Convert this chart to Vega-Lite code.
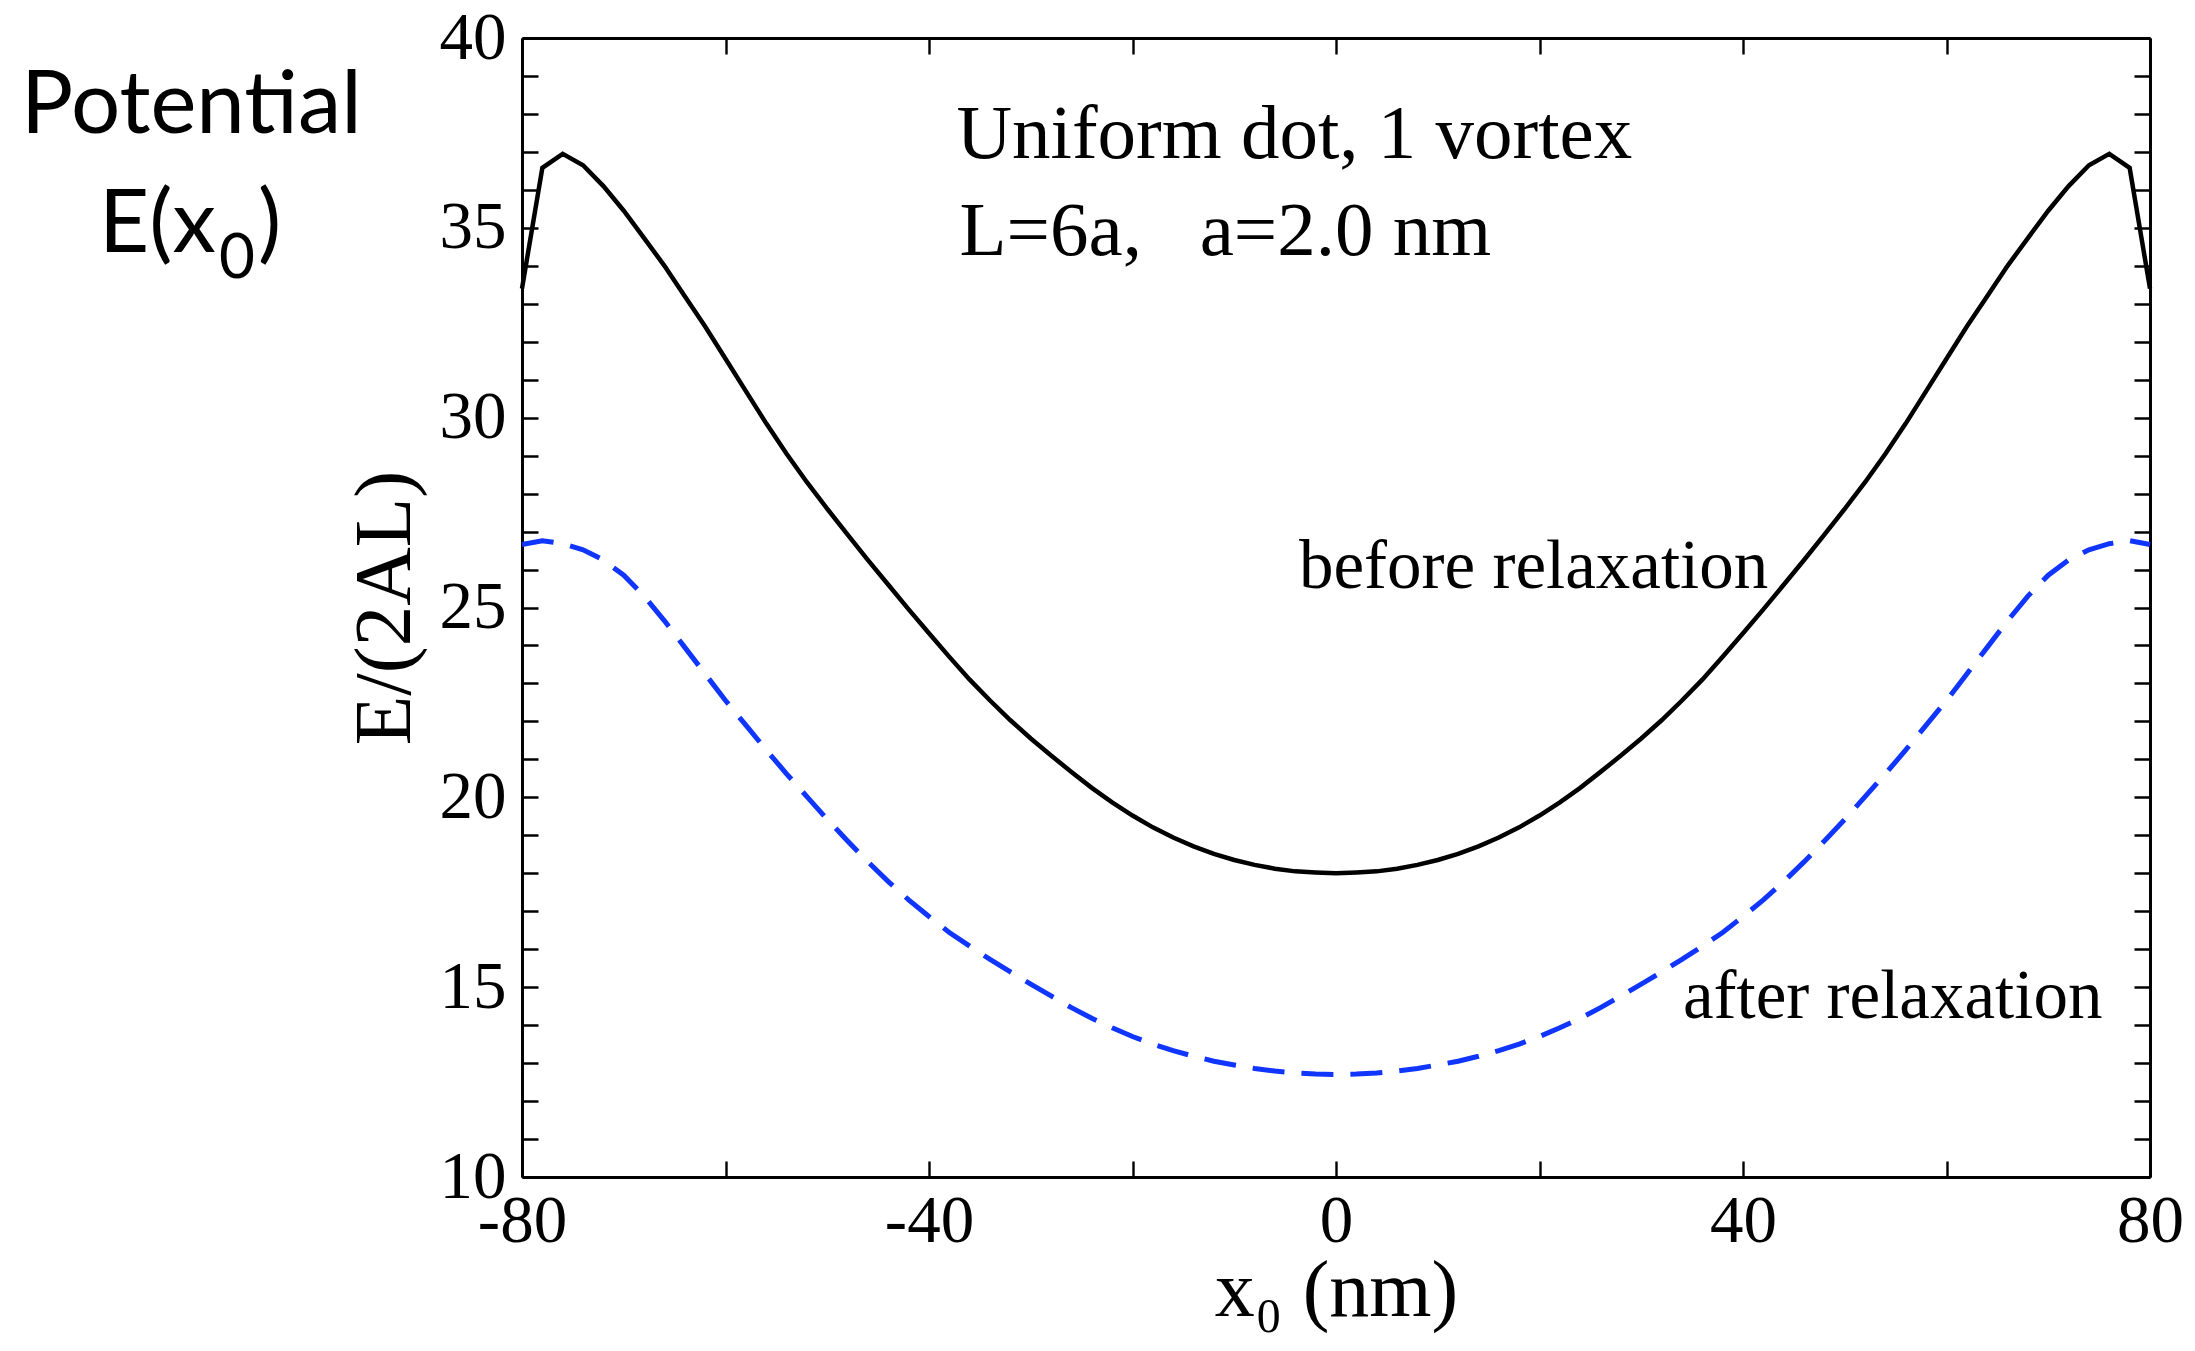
{
  "$schema": "https://vega.github.io/schema/vega-lite/v6.json",
  "width": 1628,
  "height": 1139,
  "autosize": {"type": "none"},
  "padding": {"left": 522, "top": 38, "right": 45, "bottom": 174},
  "background": "white",
  "config": {
    "view": {"stroke": null},
    "axis": {
      "domainColor": "black",
      "domainWidth": 3,
      "ticks": false,
      "labelFont": "Liberation Serif",
      "labelFontSize": 67,
      "labelColor": "black",
      "titleFont": "Liberation Serif",
      "titleFontWeight": "normal",
      "titleColor": "black",
      "grid": true,
      "gridColor": "black",
      "gridWidth": 2.4,
      "gridOpacity": 1,
      "labelFlush": false,
      "labelOverlap": false,
      "labelBound": false
    }
  },
  "datasets": {
    "before": [
      {"x": -80, "y": 33.4}, {"x": -78, "y": 36.58}, {"x": -76, "y": 36.95}, {"x": -74, "y": 36.65},
      {"x": -72, "y": 36.1}, {"x": -70, "y": 35.45}, {"x": -68, "y": 34.73}, {"x": -66, "y": 34.0},
      {"x": -64, "y": 33.2}, {"x": -62, "y": 32.4}, {"x": -60, "y": 31.55}, {"x": -58, "y": 30.7},
      {"x": -56, "y": 29.85}, {"x": -54, "y": 29.05}, {"x": -52, "y": 28.3}, {"x": -50, "y": 27.6},
      {"x": -48, "y": 26.92}, {"x": -46, "y": 26.25}, {"x": -44, "y": 25.6}, {"x": -42, "y": 24.95},
      {"x": -40, "y": 24.32}, {"x": -38, "y": 23.7}, {"x": -36, "y": 23.1}, {"x": -34, "y": 22.55},
      {"x": -32, "y": 22.03}, {"x": -30, "y": 21.55}, {"x": -28, "y": 21.1}, {"x": -26, "y": 20.67},
      {"x": -24, "y": 20.25}, {"x": -22, "y": 19.87}, {"x": -20, "y": 19.52}, {"x": -18, "y": 19.21},
      {"x": -16, "y": 18.94}, {"x": -14, "y": 18.71}, {"x": -12, "y": 18.51}, {"x": -10, "y": 18.35},
      {"x": -8, "y": 18.22}, {"x": -6, "y": 18.12}, {"x": -4, "y": 18.05}, {"x": -2, "y": 18.02},
      {"x": 0, "y": 18.0},
      {"x": 2, "y": 18.02}, {"x": 4, "y": 18.05}, {"x": 6, "y": 18.12}, {"x": 8, "y": 18.22},
      {"x": 10, "y": 18.35}, {"x": 12, "y": 18.51}, {"x": 14, "y": 18.71}, {"x": 16, "y": 18.94},
      {"x": 18, "y": 19.21}, {"x": 20, "y": 19.52}, {"x": 22, "y": 19.87}, {"x": 24, "y": 20.25},
      {"x": 26, "y": 20.67}, {"x": 28, "y": 21.1}, {"x": 30, "y": 21.55}, {"x": 32, "y": 22.03},
      {"x": 34, "y": 22.55}, {"x": 36, "y": 23.1}, {"x": 38, "y": 23.7}, {"x": 40, "y": 24.32},
      {"x": 42, "y": 24.95}, {"x": 44, "y": 25.6}, {"x": 46, "y": 26.25}, {"x": 48, "y": 26.92},
      {"x": 50, "y": 27.6}, {"x": 52, "y": 28.3}, {"x": 54, "y": 29.05}, {"x": 56, "y": 29.85},
      {"x": 58, "y": 30.7}, {"x": 60, "y": 31.55}, {"x": 62, "y": 32.4}, {"x": 64, "y": 33.2},
      {"x": 66, "y": 34.0}, {"x": 68, "y": 34.73}, {"x": 70, "y": 35.45}, {"x": 72, "y": 36.1},
      {"x": 74, "y": 36.65}, {"x": 76, "y": 36.95}, {"x": 78, "y": 36.58}, {"x": 80, "y": 33.4}
    ],
    "after": [
      {"x": -80, "y": 26.66}, {"x": -78, "y": 26.76}, {"x": -76, "y": 26.68}, {"x": -74, "y": 26.52},
      {"x": -72, "y": 26.25}, {"x": -70, "y": 25.85}, {"x": -68, "y": 25.3}, {"x": -66, "y": 24.65},
      {"x": -64, "y": 23.95}, {"x": -62, "y": 23.25}, {"x": -60, "y": 22.55}, {"x": -58, "y": 21.9},
      {"x": -56, "y": 21.25}, {"x": -54, "y": 20.62}, {"x": -52, "y": 20.02}, {"x": -50, "y": 19.42},
      {"x": -48, "y": 18.85}, {"x": -46, "y": 18.3}, {"x": -44, "y": 17.78}, {"x": -42, "y": 17.3},
      {"x": -40, "y": 16.86}, {"x": -38, "y": 16.44}, {"x": -36, "y": 16.08}, {"x": -34, "y": 15.73},
      {"x": -32, "y": 15.4}, {"x": -30, "y": 15.08}, {"x": -28, "y": 14.77}, {"x": -26, "y": 14.46},
      {"x": -24, "y": 14.18}, {"x": -22, "y": 13.93}, {"x": -20, "y": 13.7}, {"x": -18, "y": 13.5},
      {"x": -16, "y": 13.33}, {"x": -14, "y": 13.18}, {"x": -12, "y": 13.05}, {"x": -10, "y": 12.95},
      {"x": -8, "y": 12.86}, {"x": -6, "y": 12.79}, {"x": -4, "y": 12.74}, {"x": -2, "y": 12.71},
      {"x": 0, "y": 12.7},
      {"x": 2, "y": 12.71}, {"x": 4, "y": 12.74}, {"x": 6, "y": 12.79}, {"x": 8, "y": 12.86},
      {"x": 10, "y": 12.95}, {"x": 12, "y": 13.05}, {"x": 14, "y": 13.18}, {"x": 16, "y": 13.33},
      {"x": 18, "y": 13.5}, {"x": 20, "y": 13.7}, {"x": 22, "y": 13.93}, {"x": 24, "y": 14.18},
      {"x": 26, "y": 14.46}, {"x": 28, "y": 14.77}, {"x": 30, "y": 15.08}, {"x": 32, "y": 15.4},
      {"x": 34, "y": 15.73}, {"x": 36, "y": 16.08}, {"x": 38, "y": 16.44}, {"x": 40, "y": 16.86},
      {"x": 42, "y": 17.3}, {"x": 44, "y": 17.78}, {"x": 46, "y": 18.3}, {"x": 48, "y": 18.85},
      {"x": 50, "y": 19.42}, {"x": 52, "y": 20.02}, {"x": 54, "y": 20.62}, {"x": 56, "y": 21.25},
      {"x": 58, "y": 21.9}, {"x": 60, "y": 22.55}, {"x": 62, "y": 23.25}, {"x": 64, "y": 23.95},
      {"x": 66, "y": 24.65}, {"x": 68, "y": 25.3}, {"x": 70, "y": 25.85}, {"x": 72, "y": 26.25},
      {"x": 74, "y": 26.52}, {"x": 76, "y": 26.68}, {"x": 78, "y": 26.76}, {"x": 80, "y": 26.66}
    ],
    "notesBig": [
      {"x": -37.3, "y": 36.84, "label": "Uniform dot, 1 vortex"},
      {"x": -37.0, "y": 34.28, "label": "L=6a,\u00a0\u00a0\u00a0a=2.0 nm"}
    ],
    "notesSmall": [
      {"x": -3.64, "y": 25.51, "label": "before relaxation"},
      {"x": 34.1, "y": 14.19, "label": "after relaxation"}
    ],
    "side": [
      {"x": -129.24, "y": 37.49, "label": "Potential"},
      {"x": -121.57, "y": 34.36, "label": "E(x"},
      {"x": -105.95, "y": 34.36, "label": ")"}
    ],
    "sideSub": [
      {"x": -109.78, "y": 33.68, "label": "0"}
    ]
  },
  "layer": [
    {
      "data": {"name": "before"},
      "mark": {"type": "line", "color": "black", "strokeWidth": 4.5},
      "encoding": {
        "x": {
          "field": "x", "type": "quantitative",
          "scale": {"domain": [-80, 80], "nice": false, "zero": false},
          "axis": {
            "orient": "bottom",
            "values": [-80, -60, -40, -20, 0, 20, 40, 60, 80],
            "labelExpr": "datum.value % 40 === 0 ? '' + datum.value : ''",
            "labelPadding": 11,
            "gridDash": [16, 1107],
            "title": "x\u2080 (nm)",
            "titleFontSize": 80,
            "titleBaseline": "alphabetic",
            "titleX": 814,
            "titleY": 138
          }
        },
        "y": {
          "field": "y", "type": "quantitative",
          "scale": {"domain": [10, 40], "nice": false, "zero": false},
          "axis": {
            "orient": "left",
            "values": [10, 11, 12, 13, 14, 15, 16, 17, 18, 19, 20, 21, 22, 23, 24, 25, 26, 27, 28, 29, 30, 31, 32, 33, 34, 35, 36, 37, 38, 39, 40],
            "labelExpr": "datum.value % 5 === 0 ? '' + datum.value : ''",
            "labelPadding": 16,
            "gridDash": [16, 1596],
            "title": "E/(2AL)",
            "titleFontSize": 81,
            "titleAngle": -90,
            "titleBaseline": "alphabetic",
            "titleX": -113,
            "titleY": 569.5
          }
        }
      }
    },
    {
      "data": {"name": "after"},
      "mark": {"type": "line", "color": "#0f35ff", "strokeWidth": 5, "strokeDash": [32, 17]},
      "encoding": {
        "x": {
          "field": "x", "type": "quantitative",
          "scale": {"domain": [-80, 80], "nice": false, "zero": false},
          "axis": {
            "orient": "top",
            "values": [-80, -40, 0, 40, 80],
            "labels": false,
            "gridDash": [32, 1075],
            "title": null
          }
        },
        "y": {
          "field": "y", "type": "quantitative",
          "scale": {"domain": [10, 40], "nice": false, "zero": false},
          "axis": {
            "orient": "right",
            "values": [10, 15, 20, 25, 30, 35, 40],
            "labels": false,
            "gridDash": [32, 1564],
            "title": null
          }
        }
      }
    },
    {
      "data": {"name": "notesBig"},
      "mark": {"type": "text", "font": "Liberation Serif", "fontSize": 77, "align": "left", "baseline": "alphabetic", "color": "black"},
      "encoding": {
        "x": {"field": "x", "type": "quantitative", "scale": {"domain": [-80, 80], "nice": false, "zero": false}, "axis": null},
        "y": {"field": "y", "type": "quantitative", "scale": {"domain": [10, 40], "nice": false, "zero": false}, "axis": null},
        "text": {"field": "label"}
      }
    },
    {
      "data": {"name": "notesSmall"},
      "mark": {"type": "text", "font": "Liberation Serif", "fontSize": 69, "align": "left", "baseline": "alphabetic", "color": "black"},
      "encoding": {
        "x": {"field": "x", "type": "quantitative", "scale": {"domain": [-80, 80], "nice": false, "zero": false}, "axis": null},
        "y": {"field": "y", "type": "quantitative", "scale": {"domain": [10, 40], "nice": false, "zero": false}, "axis": null},
        "text": {"field": "label"}
      }
    },
    {
      "data": {"name": "side"},
      "mark": {"type": "text", "font": "Lato", "fontSize": 87, "align": "left", "baseline": "alphabetic", "color": "black"},
      "encoding": {
        "x": {"field": "x", "type": "quantitative", "scale": {"domain": [-80, 80], "nice": false, "zero": false}, "axis": null},
        "y": {"field": "y", "type": "quantitative", "scale": {"domain": [10, 40], "nice": false, "zero": false}, "axis": null},
        "text": {"field": "label"}
      }
    },
    {
      "data": {"name": "sideSub"},
      "mark": {"type": "text", "font": "Lato", "fontSize": 62, "align": "left", "baseline": "alphabetic", "color": "black"},
      "encoding": {
        "x": {"field": "x", "type": "quantitative", "scale": {"domain": [-80, 80], "nice": false, "zero": false}, "axis": null},
        "y": {"field": "y", "type": "quantitative", "scale": {"domain": [10, 40], "nice": false, "zero": false}, "axis": null},
        "text": {"field": "label"}
      }
    }
  ],
  "resolve": {"axis": {"x": "independent", "y": "independent"}}
}
